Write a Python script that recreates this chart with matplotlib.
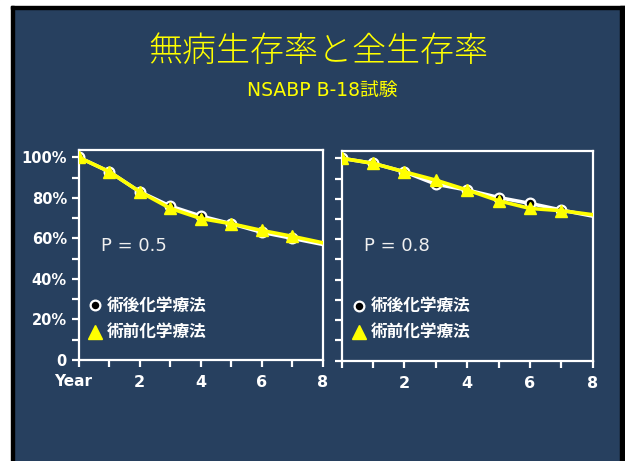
import matplotlib.pyplot as plt
from matplotlib.patches import Rectangle
from matplotlib.ticker import MultipleLocator, FuncFormatter

plt.rcParams['font.family'] = ['DejaVu Sans', 'Noto Sans CJK JP']

BG = '#27405F'
YEL = '#FFFF00'

# survival (%) by year after surgery
years = [0, 1, 2, 3, 4, 5, 6, 7, 8]
dfs_post = [100, 92.9, 83.0, 75.9, 71.0, 67.2, 63.0, 60.0, 57.0]
dfs_pre = [100, 92.9, 83.0, 74.8, 69.8, 67.2, 63.9, 61.0, 57.8]
os_post = [100, 97.5, 93.3, 87.2, 84.3, 80.6, 77.7, 74.4, 71.4]
os_pre = [100, 97.5, 93.3, 89.2, 84.3, 79.0, 75.2, 74.1, 72.1]

panels = [(dfs_post, dfs_pre, 'P = 0.5'), (os_post, os_pre, 'P = 0.8')]
y_ticks = [0, 20, 40, 60, 80, 100]
x_ticks = [2, 4, 6, 8]
legend_labels = ['術後化学療法', '術前化学療法']

W, H = 625, 461
fig = plt.figure(figsize=(W / 100, H / 100), dpi=100, facecolor=BG)


def px_rect(x0, y0, x1, y1, color):
    fig.patches.append(Rectangle((x0 / W, 1 - y1 / H), (x1 - x0) / W, (y1 - y0) / H,
                                 transform=fig.transFigure, color=color, zorder=-5))


# slide frame
px_rect(0, 0, W, 6, 'white')
px_rect(0, 0, 11, H, 'white')
px_rect(11, 6, W, 9, 'black')
px_rect(11, 6, 14, H, 'black')
px_rect(620, 6, W, H, 'black')

fig.text(318 / W, 1 - 51 / H, '無病生存率と全生存率', color=YEL, fontsize=24.5,
         fontweight='light', family=['Noto Sans CJK JP'], ha='center', va='center')
fig.text(322 / W, 1 - 90 / H, 'NSABP B-18試験', color=YEL, fontsize=13.5,
         family=['DejaVu Sans', 'Noto Sans CJK JP'], ha='center', va='center')

boxes = [(78.7, 150, 323, 360), (341.7, 151, 592.7, 360.5)]

for i, ((post, pre, ptxt), (x0, y0, x1, y1)) in enumerate(zip(panels, boxes)):
    ax = fig.add_axes([x0 / W, 1 - y1 / H, (x1 - x0) / W, (y1 - y0) / H])
    ax.set_facecolor(BG)
    ax.set_xlim(0, 8)
    ax.set_ylim(0, 103.6)
    for s in ax.spines.values():
        s.set_color('white')
        s.set_linewidth(1.6)

    ax.plot(years, post, color='white', lw=2.6, marker='o', ms=7,
            mfc='black', mec='white', mew=1.6, markevery=slice(0, 8), zorder=3)
    ax.plot(years, pre, color=YEL, lw=2.6, marker='^', ms=9,
            mfc=YEL, mec=YEL, markevery=slice(0, 8), zorder=4)

    ax.set_yticks(y_ticks)
    ax.yaxis.set_minor_locator(MultipleLocator(10))
    ax.set_xticks(years)
    ax.tick_params(colors='white', width=1.6, length=5, which='both')
    ax.tick_params(axis='x', pad=6)
    if i == 0:
        ax.yaxis.set_major_formatter(FuncFormatter(lambda v, p: '0' if v == 0 else f'{v:.0f}%'))
        for lab in ax.get_yticklabels():
            lab.set_fontweight('bold')
            lab.set_fontsize(10.5)
        ax.text(-0.022, -0.1, 'Year', transform=ax.transAxes, color='white',
                fontsize=11, fontweight='bold', ha='center', va='center')
    else:
        ax.set_yticklabels([])
    ax.set_xticklabels([str(v) if v in x_ticks else '' for v in years])
    for lab in ax.get_xticklabels():
        lab.set_fontweight('bold')
        lab.set_fontsize(11.5)
        lab.set_color('white')

    ax.text(0.09, 0.545, ptxt, transform=ax.transAxes, color='#F0F0F0',
            fontsize=13, va='center', ha='left')

    # legend drawn by hand
    ax.plot([0.067], [0.26], 'o', transform=ax.transAxes, ms=7, mfc='black',
            mec='white', mew=1.6, clip_on=False)
    ax.plot([0.067], [0.135], '^', transform=ax.transAxes, ms=10, mfc=YEL,
            mec=YEL, clip_on=False)
    for yy, lab in zip([0.26, 0.135], legend_labels):
        ax.text(0.115, yy, lab, transform=ax.transAxes, color='white', fontsize=12,
                fontweight='bold', family=['Noto Sans CJK JP'], va='center', ha='left')

fig.savefig('out.png', dpi=100, facecolor=BG)
